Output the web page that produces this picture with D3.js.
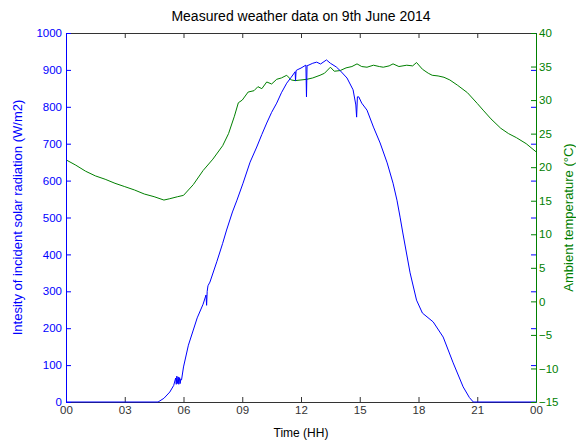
<!DOCTYPE html>
<html>
<head>
<meta charset="utf-8">
<script src="https://cdn.jsdelivr.net/npm/d3@7"></script>
<style>
  body { margin: 0; background: #fff; }
  svg { font-family: "Liberation Sans", Arial, sans-serif; }
  .tick text { font-size: 11.5px; }
</style>
</head>
<body>
<svg width="576" height="443"></svg>
<script>
// Measured data (hours of day)
const xTicks = [0, 3, 6, 9, 12, 15, 18, 21, 24];
const radTicks = [0, 100, 200, 300, 400, 500, 600, 700, 800, 900, 1000];
const tempTicks = [-15, -10, -5, 0, 5, 10, 15, 20, 25, 30, 35, 40];

const radTime = [0, 4.7, 5.0, 5.3, 5.5, 5.6, 5.63, 5.66, 5.7, 5.73, 5.76, 5.8, 5.83, 5.86, 5.9, 6.0, 6.25, 6.5, 6.7, 7.0, 7.15, 7.18, 7.21, 7.25, 7.35, 7.7, 8.0, 8.2, 8.5, 8.73, 9.04, 9.4, 9.74, 10.0, 10.25, 10.5, 10.76, 11.0, 11.27, 11.5, 11.7, 11.72, 11.75, 11.8, 12.0, 12.25, 12.28, 12.31, 12.35, 12.6, 12.8, 13.0, 13.3, 13.5, 13.8, 14.0, 14.35, 14.66, 14.8, 14.84, 14.88, 14.95, 15.1, 15.37, 15.7, 16.04, 16.4, 16.7, 16.9, 17.06, 17.2, 17.57, 17.9, 18.2, 18.75, 19.26, 19.77, 20.28, 20.6, 20.8, 24];
const radValue = [0, 0, 10, 27, 45, 65, 48, 70, 50, 68, 48, 66, 50, 62, 60, 95, 154, 195, 228, 265, 290, 262, 300, 315, 325, 380, 430, 466, 515, 547, 593, 650, 691, 725, 756, 785, 810, 838, 864, 880, 895, 870, 898, 900, 905, 913, 827, 912, 912, 918, 921, 916, 927, 918, 908, 898, 878, 846, 805, 772, 827, 827, 810, 791, 745, 702, 648, 593, 547, 501, 458, 350, 276, 241, 217, 176, 106, 41, 12, 0, 0];

const tempTime = [0, 0.5, 1, 1.5, 2, 2.5, 3, 3.5, 4, 4.5, 5, 5.3, 5.7, 6, 6.5, 7, 7.5, 8, 8.3, 8.6, 8.8, 9, 9.3, 9.6, 9.8, 10, 10.25, 10.5, 10.76, 11, 11.27, 11.5, 11.7, 12, 12.3, 12.6, 12.97, 13.2, 13.5, 13.7, 14, 14.3, 14.6, 14.86, 15.1, 15.37, 15.7, 16, 16.2, 16.5, 16.7, 17, 17.4, 17.7, 17.9, 18.2, 18.5, 18.7, 19, 19.3, 19.6, 20, 20.5, 21, 21.3, 21.7, 22.2, 22.6, 23, 23.5, 24];
const tempValue = [21.1, 20.3, 19.4, 18.7, 18.2, 17.6, 17.1, 16.6, 16.0, 15.6, 15.1, 15.3, 15.6, 15.8, 17.4, 19.5, 21.2, 23.2, 25.0, 27.6, 29.6, 30.0, 31.2, 31.4, 32.0, 31.7, 32.7, 32.4, 33.1, 33.3, 33.7, 33.0, 32.9, 33.0, 33.1, 33.3, 33.7, 34.0, 34.9, 34.3, 34.4, 34.8, 35.0, 35.4, 35.0, 34.9, 35.2, 35.0, 34.9, 35.1, 35.4, 35.0, 35.2, 35.1, 35.6, 34.6, 34.0, 33.7, 33.6, 33.4, 33.0, 32.2, 31.1, 29.5, 28.5, 27.2, 25.8, 25.0, 24.4, 23.5, 22.3];

const BLUE = '#0000ff';
const GREEN = '#008000';
const GRAY = '#333333';

const mLeft = 66, mRight = 536, mTop = 33, mBottom = 402;
const svg = d3.select('svg');

const x = d3.scaleLinear().domain([0, 24]).range([mLeft, mRight]);
const yL = d3.scaleLinear().domain([0, 1000]).range([mBottom, mTop]);
const yR = d3.scaleLinear().domain([-15, 40]).range([mBottom, mTop]);

const fmtHour = d => String(d % 24).padStart(2, '0');

function styleAxis(g, color) {
    g.select('.domain').attr('stroke', color);
    g.selectAll('.tick line').attr('stroke', color);
    g.selectAll('.tick text').attr('fill', color);
}

// top and bottom
svg.append('g')
    .attr('transform', `translate(0,${mTop})`)
    .call(d3.axisTop(x).tickValues(xTicks).tickSize(-5).tickSizeOuter(0).tickFormat(''))
    .call(g => styleAxis(g, GRAY));

svg.append('g')
    .attr('transform', `translate(0,${mBottom})`)
    .call(d3.axisBottom(x).tickValues(xTicks).tickSize(-5).tickSizeOuter(0).tickFormat(fmtHour).tickPadding(4))
    .call(g => styleAxis(g, GRAY));

// lines
const radLine = d3.line().x((d, i) => x(radTime[i])).y(d => yL(d));
const tempLine = d3.line().x((d, i) => x(tempTime[i])).y(d => yR(d));

svg.append('path')
    .datum(tempValue)
    .attr('d', tempLine)
    .attr('fill', 'none')
    .attr('stroke', GREEN)
    .attr('stroke-width', 1);

svg.append('path')
    .datum(radValue)
    .attr('d', radLine)
    .attr('fill', 'none')
    .attr('stroke', BLUE)
    .attr('stroke-width', 1);

// left blue axis
svg.append('g')
    .attr('transform', `translate(${mLeft},0)`)
    .call(d3.axisLeft(yL).tickValues(radTicks).tickSize(-5).tickSizeOuter(0).tickPadding(4).tickFormat(d3.format('d')))
    .call(g => styleAxis(g, BLUE));

// blue ticks mirrored on right
svg.append('g')
    .attr('transform', `translate(${mRight},0)`)
    .call(d3.axisRight(yL).tickValues(radTicks).tickSize(-5).tickSizeOuter(0).tickFormat(''))
    .call(g => styleAxis(g, BLUE));

// right green axis
svg.append('g')
    .attr('transform', `translate(${mRight},0)`)
    .call(d3.axisRight(yR).tickValues(tempTicks).tickSize(-5).tickSizeOuter(0).tickPadding(3).tickFormat(d3.format('d')))
    .call(g => styleAxis(g, GREEN));

// texts
svg.append('text')
    .attr('x', (mLeft + mRight) / 2)
    .attr('y', 21)
    .attr('text-anchor', 'middle')
    .attr('font-size', 14)
    .attr('fill', '#000')
    .text('Measured weather data on 9th June 2014');

svg.append('text')
    .attr('x', (mLeft + mRight) / 2)
    .attr('y', 437)
    .attr('text-anchor', 'middle')
    .attr('font-size', 12)
    .attr('fill', '#000')
    .text('Time (HH)');

svg.append('text')
    .attr('transform', `translate(22,${(mTop + mBottom) / 2}) rotate(-90)`)
    .attr('text-anchor', 'middle')
    .attr('font-size', 13)
    .attr('fill', BLUE)
    .text('Intesity of incident solar radiation (W/m2)');

svg.append('text')
    .attr('transform', `translate(573,${(mTop + mBottom) / 2}) rotate(-90)`)
    .attr('text-anchor', 'middle')
    .attr('font-size', 13)
    .attr('fill', GREEN)
    .text('Ambient temperature (°C)');
</script>
</body>
</html>
